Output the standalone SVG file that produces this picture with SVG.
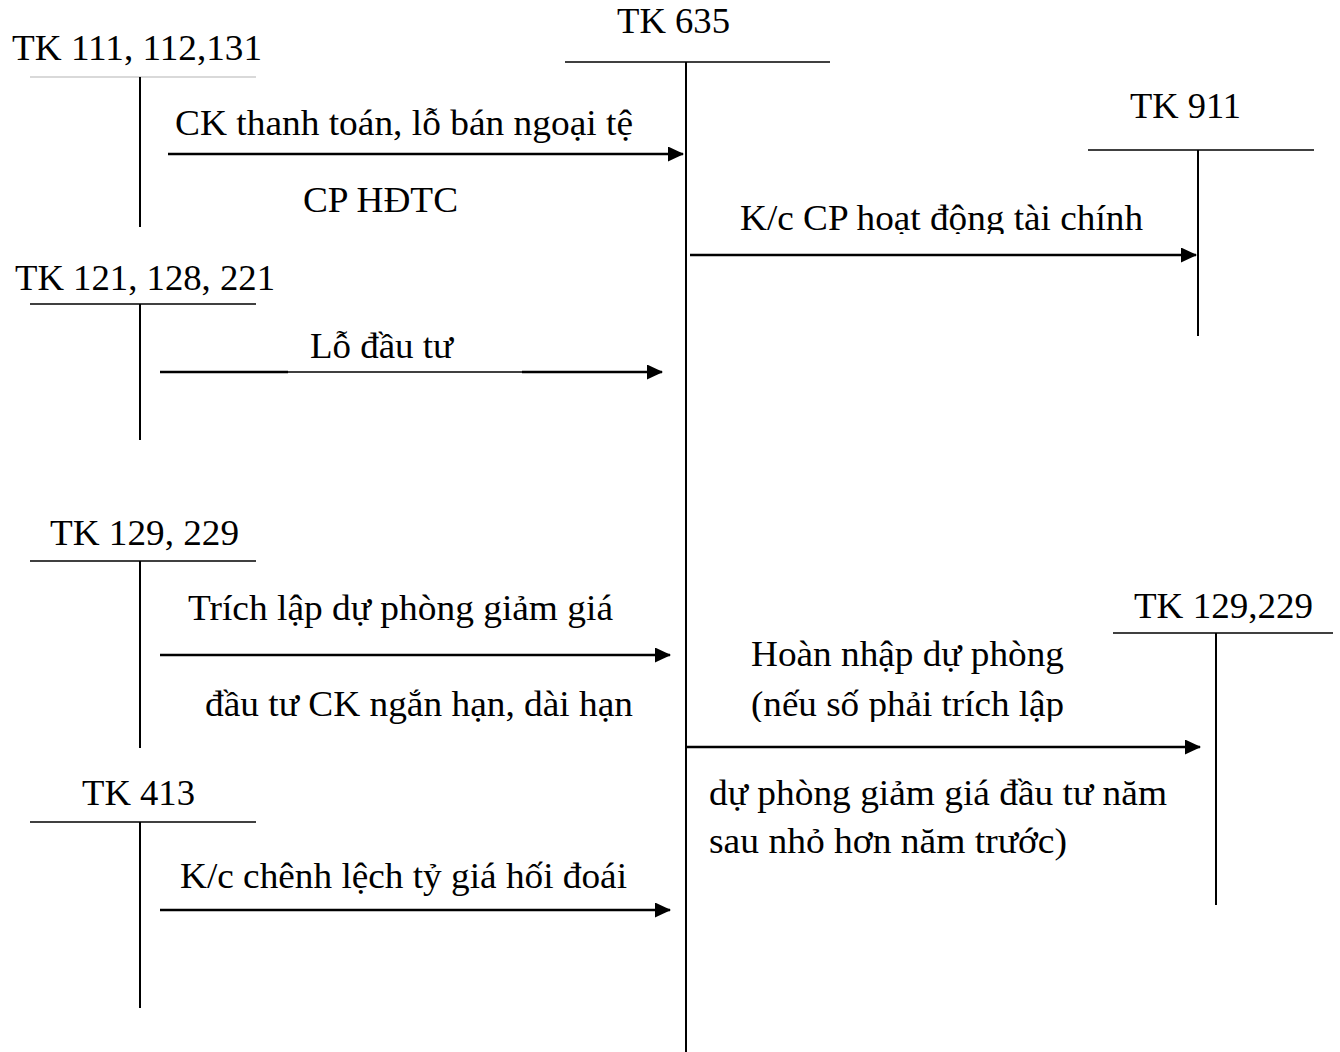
<svg xmlns="http://www.w3.org/2000/svg" width="1340" height="1052" viewBox="0 0 1340 1052">
<style>
text{font-family:"Liberation Serif","Times New Roman",serif;font-size:35px;fill:#000}
.h{stroke:#000;stroke-width:1.5;fill:none}
.v{stroke:#000;stroke-width:2;fill:none}
.l{stroke:#000;stroke-width:2.6;fill:none}
.a{stroke:#000;stroke-width:2.6;fill:none;marker-end:url(#ah)}
</style>
<defs>
<marker id="ah" viewBox="0 0 16 15" refX="15" refY="7.5" markerWidth="16" markerHeight="15" markerUnits="userSpaceOnUse" orient="auto">
<path d="M0,0L16,7.5L0,15z" fill="#000"/>
</marker>
<clipPath id="c1"><rect x="0" y="0" width="1340" height="234"/></clipPath>
<clipPath id="c2"><rect x="0" y="600" width="1340" height="122"/></clipPath>
</defs>
<rect width="1340" height="1052" fill="#fff"/>
<g id="tk111">
<text x="12" y="60" textLength="250" lengthAdjust="spacingAndGlyphs">TK 111, 112,131</text>
<line x1="30" y1="77" x2="256" y2="77" stroke="#ccc" stroke-width="1.5"/>
<line class="v" x1="140" y1="77" x2="140" y2="227"/>
</g>
<g id="tk635">
<text x="617" y="33" textLength="113" lengthAdjust="spacingAndGlyphs">TK 635</text>
<line class="h" x1="565" y1="62" x2="830" y2="62"/>
<line class="v" x1="686" y1="62" x2="686" y2="1052"/>
</g>
<g id="tk911">
<text x="1130" y="118" textLength="111" lengthAdjust="spacingAndGlyphs">TK 911</text>
<line class="h" x1="1088" y1="150" x2="1314" y2="150"/>
<line class="v" x1="1198" y1="150" x2="1198" y2="336"/>
</g>
<g id="tk121">
<text x="15" y="290" textLength="260" lengthAdjust="spacingAndGlyphs">TK 121, 128, 221</text>
<line class="h" x1="30" y1="304" x2="256" y2="304"/>
<line class="v" x1="140" y1="304" x2="140" y2="440"/>
</g>
<g id="tk129">
<text x="50" y="545" textLength="189" lengthAdjust="spacingAndGlyphs">TK 129, 229</text>
<line class="h" x1="30" y1="561" x2="256" y2="561"/>
<line class="v" x1="140" y1="561" x2="140" y2="748"/>
</g>
<g id="tk129r">
<text x="1134" y="618" textLength="179" lengthAdjust="spacingAndGlyphs">TK 129,229</text>
<line class="h" x1="1113" y1="633" x2="1333" y2="633"/>
<line class="v" x1="1216" y1="633" x2="1216" y2="905"/>
</g>
<g id="tk413">
<text x="82" y="805" textLength="113" lengthAdjust="spacingAndGlyphs">TK 413</text>
<line class="h" x1="30" y1="822" x2="256" y2="822"/>
<line class="v" x1="140" y1="822" x2="140" y2="1008"/>
</g>
<g id="connectors">
<line class="a" x1="168" y1="154" x2="683" y2="154"/>
<text x="175" y="135" textLength="458" lengthAdjust="spacingAndGlyphs">CK thanh toán, lỗ bán ngoại tệ</text>
<text x="303" y="212" textLength="155" lengthAdjust="spacingAndGlyphs">CP HĐTC</text>
<line class="a" x1="690" y1="255" x2="1196" y2="255"/>
<text x="740" y="230" textLength="403" lengthAdjust="spacingAndGlyphs" clip-path="url(#c1)">K/c CP hoạt động tài chính</text>
<line class="l" x1="160" y1="372" x2="288" y2="372"/>
<line stroke="#000" stroke-width="1.6" x1="288" y1="372" x2="522" y2="372"/>
<line class="a" x1="522" y1="372" x2="662" y2="372"/>
<text x="310" y="358" textLength="143" lengthAdjust="spacingAndGlyphs">Lỗ đầu tư</text>
<line class="a" x1="160" y1="655" x2="670" y2="655"/>
<text x="188" y="620" textLength="425" lengthAdjust="spacingAndGlyphs">Trích lập dự phòng giảm giá</text>
<text x="205" y="716" textLength="428" lengthAdjust="spacingAndGlyphs">đầu tư CK ngắn hạn, dài hạn</text>
<line class="a" x1="686" y1="747" x2="1200" y2="747"/>
<text x="751" y="666" textLength="313" lengthAdjust="spacingAndGlyphs">Hoàn nhập dự phòng</text>
<text x="751" y="716" textLength="313" lengthAdjust="spacingAndGlyphs" clip-path="url(#c2)">(nếu số phải trích lập</text>
<text x="709" y="805" textLength="458" lengthAdjust="spacingAndGlyphs">dự phòng giảm giá đầu tư năm</text>
<text x="709" y="853" textLength="358" lengthAdjust="spacingAndGlyphs">sau nhỏ hơn năm trước)</text>
<line class="a" x1="160" y1="910" x2="670" y2="910"/>
<text x="180" y="888" textLength="447" lengthAdjust="spacingAndGlyphs">K/c chênh lệch tỷ giá hối đoái</text>
</g>
</svg>
